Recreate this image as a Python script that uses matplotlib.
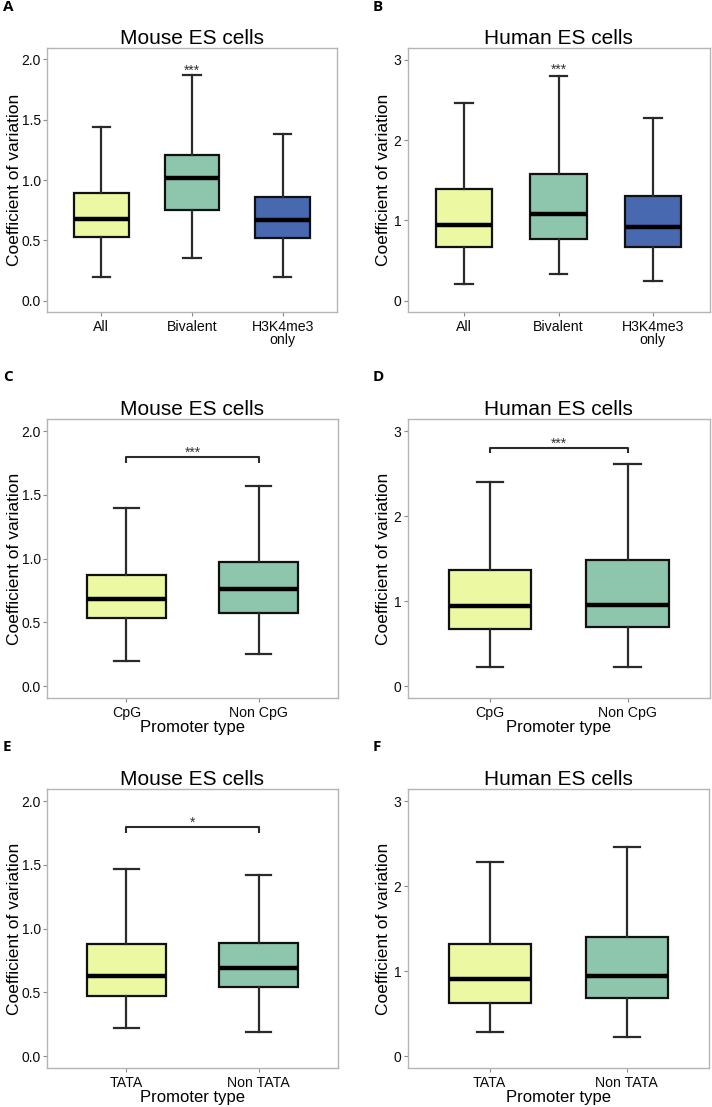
import matplotlib
matplotlib.use('Agg')
import matplotlib.pyplot as plt

plt.rcParams['font.family'] = ['Liberation Sans', 'DejaVu Sans']

W, H = 712, 1107
fig = plt.figure(figsize=(W / 100, H / 100), dpi=100)

# ---------------- data ----------------
cats_A = ['All', 'Bivalent', 'H3K4me3\nonly']
A_low = [0.20, 0.35, 0.20]
A_q1 = [0.53, 0.75, 0.52]
A_med = [0.68, 1.02, 0.67]
A_q3 = [0.89, 1.21, 0.86]
A_high = [1.44, 1.87, 1.38]

cats_B = ['All', 'Bivalent', 'H3K4me3\nonly']
B_low = [0.21, 0.33, 0.25]
B_q1 = [0.67, 0.77, 0.67]
B_med = [0.94, 1.08, 0.92]
B_q3 = [1.39, 1.58, 1.31]
B_high = [2.46, 2.80, 2.28]

cats_C = ['CpG', 'Non CpG']
C_low = [0.20, 0.25]
C_q1 = [0.53, 0.57]
C_med = [0.68, 0.76]
C_q3 = [0.87, 0.97]
C_high = [1.40, 1.57]

cats_D = ['CpG', 'Non CpG']
D_low = [0.23, 0.22]
D_q1 = [0.67, 0.70]
D_med = [0.94, 0.96]
D_q3 = [1.37, 1.48]
D_high = [2.40, 2.62]

cats_E = ['TATA', 'Non TATA']
E_low = [0.22, 0.19]
E_q1 = [0.47, 0.54]
E_med = [0.63, 0.69]
E_q3 = [0.88, 0.89]
E_high = [1.47, 1.42]

cats_F = ['TATA', 'Non TATA']
F_low = [0.28, 0.22]
F_q1 = [0.62, 0.68]
F_med = [0.91, 0.94]
F_q3 = [1.32, 1.40]
F_high = [2.29, 2.46]

colors3 = ['#EDF8A3', '#8EC6AD', '#4869B0']
colors2 = ['#EDF8A3', '#8EC6AD']

ylim_mouse = (-0.094, 2.095)
ticks_mouse = [0.0, 0.5, 1.0, 1.5, 2.0]
ticklabels_mouse = ['0.0', '0.5', '1.0', '1.5', '2.0']
ylim_human = (-0.14, 3.146)
ticks_human = [0, 1, 2, 3]
ticklabels_human = ['0', '1', '2', '3']


def ax_px(x0, y0, x1, y1):
    return fig.add_axes([x0 / W, 1 - y1 / H, (x1 - x0) / W, (y1 - y0) / H])


def panel(rect, letter, letter_xy, title, cats, low, q1, med, q3, high, colors,
          ylim, ticks, ticklabels, ylabel_x, xlabel=None):
    ax = ax_px(*rect)
    stats = []
    for lo, a, m, b, hi in zip(low, q1, med, q3, high):
        stats.append(dict(whislo=lo, q1=a, med=m, q3=b, whishi=hi, fliers=[]))
    pos = list(range(1, len(cats) + 1))
    bp = ax.bxp(stats, positions=pos, widths=0.6, patch_artist=True,
                showfliers=False, capwidths=0.19,
                boxprops=dict(edgecolor='#111111', linewidth=1.6),
                medianprops=dict(color='black', linewidth=3.2),
                whiskerprops=dict(color='#2a2a2a', linewidth=1.6),
                capprops=dict(color='#2a2a2a', linewidth=1.6))
    for patch, c in zip(bp['boxes'], colors):
        patch.set_facecolor(c)
    ax.set_xlim(0.4, len(cats) + 0.6)
    ax.set_ylim(*ylim)
    ax.set_yticks(ticks)
    ax.set_yticklabels(ticklabels)
    ax.set_xticks(pos)
    ax.set_xticklabels(cats, linespacing=0.95)
    for s in ax.spines.values():
        s.set_color('#b5b5b5')
        s.set_linewidth(1.0)
    ax.tick_params(axis='both', colors='#8a8a8a', length=3, width=0.8,
                   labelcolor='#0a0a0a')
    ax.tick_params(axis='y', labelsize=10, pad=1.5)
    ax.tick_params(axis='x', labelsize=10.2, pad=2.5)
    ax.set_title(title, fontsize=15, pad=2)
    ax.set_ylabel('Coefficient of variation', fontsize=12.5)
    ax.yaxis.set_label_coords(ylabel_x, 0.5)
    if xlabel:
        ax.set_xlabel(xlabel, fontsize=12, labelpad=0)
    fig.text(letter_xy[0] / W, 1 - letter_xy[1] / H, letter, fontsize=11,
             fontweight='bold', family=['Open Sans', 'DejaVu Sans'],
             ha='left', va='top')
    return ax


def bracket(ax, x1, x2, y, drop, label):
    ax.plot([x1, x1, x2, x2], [y - drop, y, y, y - drop], color='#2a2a2a',
            linewidth=1.5, solid_capstyle='butt')
    ax.text((x1 + x2) / 2, y - drop * 0.55, label, ha='center', va='bottom',
            fontsize=10, color='#333333')


axA = panel((47, 48, 337, 312), 'A', (3, 0), 'Mouse ES cells', cats_A,
            A_low, A_q1, A_med, A_q3, A_high, colors3,
            ylim_mouse, ticks_mouse, ticklabels_mouse, -0.086)
axA.text(2, A_high[1] - 0.02, '***', ha='center', va='bottom', fontsize=10,
         color='#333333')

axB = panel((407.5, 48, 709.5, 312), 'B', (373, 0), 'Human ES cells', cats_B,
            B_low, B_q1, B_med, B_q3, B_high, colors3,
            ylim_human, ticks_human, ticklabels_human, -0.055)
axB.text(2, B_high[1] - 0.01, '***', ha='center', va='bottom', fontsize=10,
         color='#333333')

axC = panel((47, 419, 338, 698), 'C', (3, 370), 'Mouse ES cells', cats_C,
            C_low, C_q1, C_med, C_q3, C_high, colors2,
            ylim_mouse, ticks_mouse, ticklabels_mouse, -0.086,
            xlabel='Promoter type')
bracket(axC, 1, 2, 1.80, 0.05, '***')

axD = panel((407.5, 419, 710, 698), 'D', (373, 370), 'Human ES cells', cats_D,
            D_low, D_q1, D_med, D_q3, D_high, colors2,
            ylim_human, ticks_human, ticklabels_human, -0.055,
            xlabel='Promoter type')
bracket(axD, 1, 2, 2.80, 0.06, '***')

axE = panel((47, 789, 338, 1068), 'E', (3, 740), 'Mouse ES cells', cats_E,
            E_low, E_q1, E_med, E_q3, E_high, colors2,
            ylim_mouse, ticks_mouse, ticklabels_mouse, -0.086,
            xlabel='Promoter type')
bracket(axE, 1, 2, 1.80, 0.05, '*')

axF = panel((407.5, 789, 709, 1068), 'F', (373, 740), 'Human ES cells', cats_F,
            F_low, F_q1, F_med, F_q3, F_high, colors2,
            ylim_human, ticks_human, ticklabels_human, -0.055,
            xlabel='Promoter type')

fig.savefig('out.png', dpi=100)
